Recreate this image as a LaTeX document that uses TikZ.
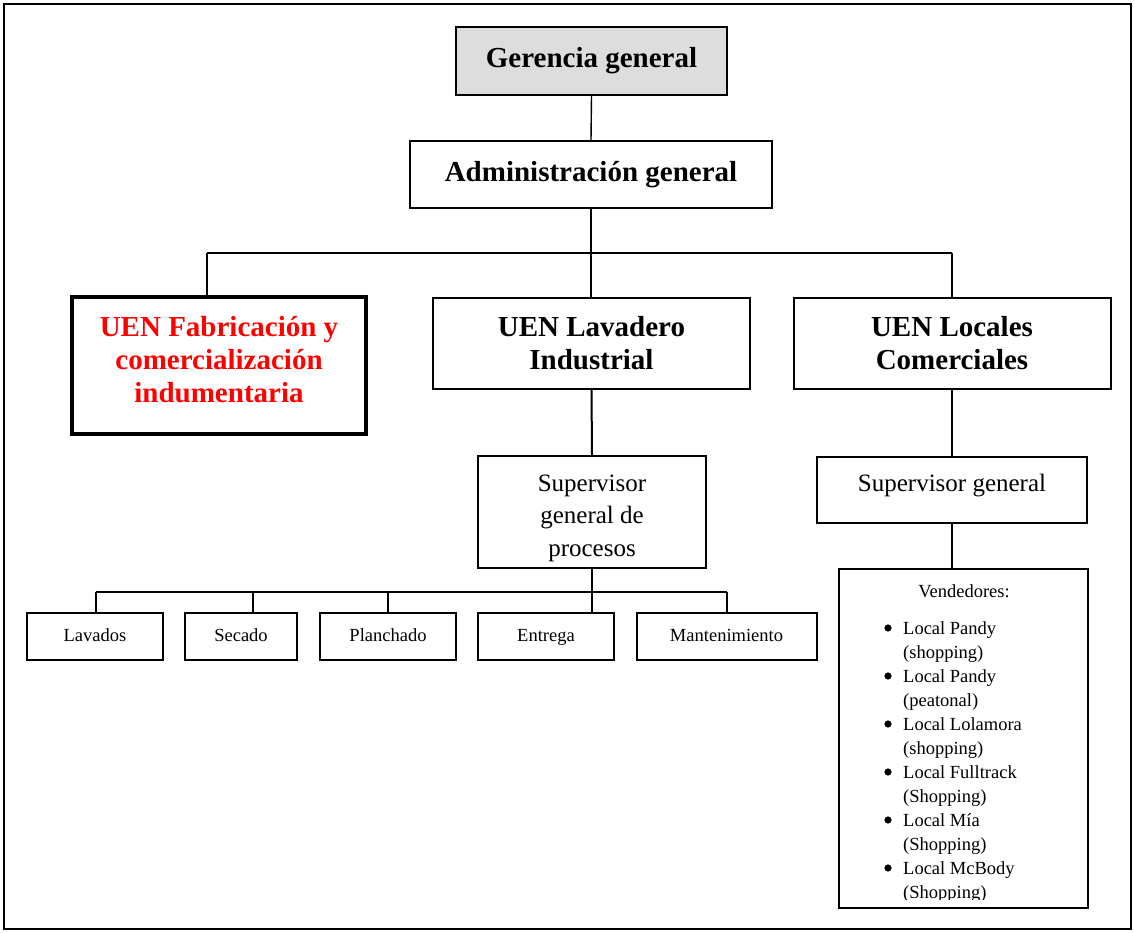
\documentclass[tikz,border=0pt]{standalone}
\usepackage{fontspec}
\setmainfont{Liberation Serif}
\definecolor{boxgray}{HTML}{DDDDDD}
\definecolor{uenred}{HTML}{FF0000}
\begin{document}
\begin{tikzpicture}[x=1pt,y=-1pt,
  box/.style={draw,line width=2pt,inner sep=0pt,align=center},
  bigbold/.style={font=\fontsize{29}{33}\selectfont\bfseries},
  midtext/.style={font=\fontsize{25}{32.5}\selectfont},
  smalltext/.style={font=\fontsize{18.5}{23}\selectfont,text height=13pt,text depth=4pt},
  conn/.style={line width=2pt},
  thinconn/.style={line width=1.4pt},
  listtext/.style={font=\fontsize{18.5}{24}\selectfont,inner sep=0pt}
]
\useasboundingbox (0,0) rectangle (1134,932);
\draw[line width=2.5pt] (4,4) rectangle (1131,929);

% top levels
\node[box,fill=boxgray,minimum width=271,minimum height=68,bigbold] (ger) at (591.5,61) {Gerencia general};
\node[box,minimum width=362,minimum height=67,bigbold] (adm) at (591,174.5) {Administración general};

\node[box,line width=4pt,minimum width=294,minimum height=137] (fab) at (219,365.5) {};
\node[bigbold,align=center,text=uenred,inner sep=0pt] (fabt) at ([yshift=6]fab.center) {UEN Fabricación y\\comercialización\\indumentaria};
\node[box,minimum width=317,minimum height=91,bigbold] (lav) at (591.5,343) {UEN Lavadero\\Industrial};
\node[box,minimum width=317,minimum height=91,bigbold] (loc) at (952,343) {UEN Locales\\Comerciales};

\node[box,minimum width=228,minimum height=112] (sup) at (592,512) {};
\node[midtext,align=center,inner sep=0pt] (supt) at ([yshift=-6]sup.center) {Supervisor\\general de\\procesos};
\node[box,minimum width=270,minimum height=66] (sgen) at (952,490) {};
\node[midtext,inner sep=0pt] (sgent) at ([yshift=4]sgen.center) {Supervisor general};
\node[box,minimum width=249,minimum height=339] (ven) at (963,738.5) {};

% small boxes
\node[box,minimum width=136,minimum height=47,smalltext] (lavados) at (95,636.5) {Lavados};
\node[box,minimum width=112,minimum height=47,smalltext] (secado) at (241,636.5) {Secado};
\node[box,minimum width=136,minimum height=47,smalltext] (planchado) at (388,636.5) {Planchado};
\node[box,minimum width=136,minimum height=47,smalltext] (entrega) at (546,636.5) {Entrega};
\node[box,minimum width=180,minimum height=47,smalltext] (mant) at (726.5,636.5) {Mantenimiento};

% connectors top
\draw[thinconn] (ger.south) -- (adm.north);
\coordinate (busA) at (591,253);
\coordinate (busL) at (207,253);
\coordinate (busR) at (951.5,253);
\draw[thinconn] (adm.south) -- (busA);
\draw[thinconn] (busL) -- (busR);
\draw[conn] (busL) -- (busL |- fab.north);
\draw[conn] (busA) -- (busA |- lav.north);
\draw[conn] (busR) -- (busR |- loc.north);

\draw[conn] (lav.south) -- (sup.north);
\draw[conn] (loc.south) -- (sgen.north);
\draw[conn] (sgen.south) -- (sgen.south |- ven.north);

% process bus
\coordinate (pb) at (592,592);
\coordinate (p1) at (96,592);
\coordinate (p2) at (253,592);
\coordinate (p3) at (388,592);
\coordinate (p5) at (727,592);
\draw[conn] (sup.south) -- (pb);
\draw[conn] (p1) -- (p5);
\draw[conn] (p1) -- (p1 |- lavados.north);
\draw[conn] (p2) -- (p2 |- secado.north);
\draw[conn] (p3) -- (p3 |- planchado.north);
\draw[conn] (pb) -- (pb |- entrega.north);
\draw[conn] (p5) -- (p5 |- mant.north);

% Vendedores list
\begin{scope}
\clip (840,571) rectangle (1086,899);
\node[listtext,anchor=base] (vt) at (964,597) {Vendedores:};
\foreach \i/\a/\b in {0/Local Pandy/(shopping),1/Local Pandy/(peatonal),2/Local Lolamora/(shopping),3/Local Fulltrack/(Shopping),4/Local Mía/(Shopping),5/Local McBody/(Shopping)}{
  \pgfmathsetmacro{\yy}{634+48*\i}
  \fill (888,\yy-6) circle (3.6);
  \node[listtext,anchor=base west] (va\i) at (903,\yy) {\a};
  \node[listtext,anchor=base west] (vb\i) at (903,\yy+24) {\b};
}
\end{scope}
\end{tikzpicture}
\end{document}
